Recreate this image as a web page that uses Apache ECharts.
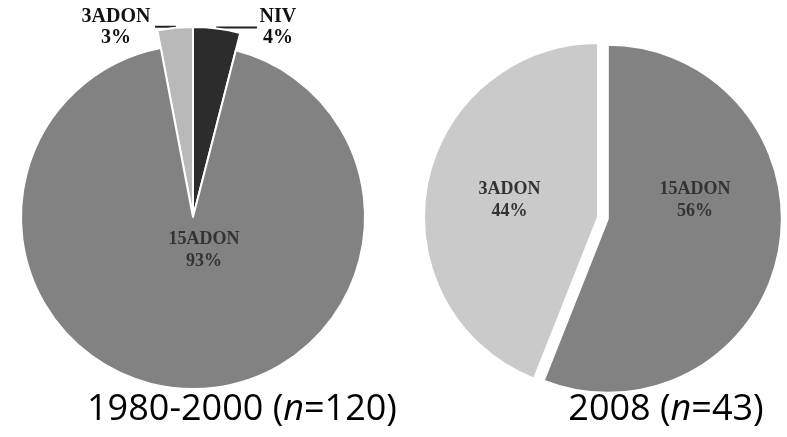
<!DOCTYPE html>
<html>
<head>
<meta charset="utf-8">
<script src="https://cdn.jsdelivr.net/npm/echarts@6/dist/echarts.min.js"></script>
<style>
html, body { margin: 0; padding: 0; background: #fff; }
#main { width: 787px; height: 437px; }
</style>
</head>
<body>
<div id="main"></div>
<script>
// 1980-2000
var leftNames = ['NIV', '15ADON', '3ADON'];
var leftValues = [4, 93, 3];
// 2008
var rightNames = ['15ADON', '3ADON'];
var rightValues = [56, 44];
var titleTexts = ['1980-2000 ({i|n}=120)', '2008 ({i|n}=43)'];

var leftColor = { 'NIV': '#2c2c2c', '15ADON': '#828282', '3ADON': '#b9b9b9' };
var rightColor = { '15ADON': '#828282', '3ADON': '#cacaca' };
var none = 'rgba(0,0,0,0)';
var serif = 'Liberation Serif';

var oChart = echarts.init(document.getElementById('main'));

// small slices drawn on a larger radius
var leftOuter = leftNames.map(function (n, i) {
    var big = n === '15ADON';
    return {
        name: n,
        value: leftValues[i],
        itemStyle: big ? { color: none, borderWidth: 0 } : { color: leftColor[n] },
        label: { show: !big },
        labelLine: { show: !big, length: 1, length2: n === 'NIV' ? 40 : 20 }
    };
});

var leftInner = leftNames.map(function (n, i) {
    var big = n === '15ADON';
    return {
        name: n,
        value: leftValues[i],
        itemStyle: big ? { color: leftColor[n] } : { color: none, borderWidth: 0 },
        label: { show: big }
    };
});

var rightData = rightNames.map(function (n, i) {
    return {
        name: n,
        value: rightValues[i],
        selected: n === '15ADON',
        itemStyle: { color: rightColor[n] },
        label: { show: n === '3ADON' }
    };
});

// same slices, invisible, only to carry the 15ADON label
var rightLabelData = rightNames.map(function (n, i) {
    return {
        name: n,
        value: rightValues[i],
        itemStyle: { color: none, borderWidth: 0 },
        label: { show: n === '15ADON' }
    };
});

function pctLabel(p) {
    return p.name + '\n' + p.value + '%';
}

var innerLabel = {
    formatter: pctLabel,
    fontFamily: serif,
    fontWeight: 'bold',
    fontSize: 18,
    lineHeight: 22,
    color: '#333'
};

var chartopt = {
    animation: false,
    backgroundColor: '#fff',
    title: titleTexts.map(function (t, i) {
        return {
            text: t,
            left: i === 0 ? 237 : 661,
            top: 387,
            textAlign: 'center',
            textStyle: {
                fontFamily: 'Open Sans',
                fontSize: 36,
                fontWeight: 'normal',
                color: '#000',
                rich: {
                    i: { fontFamily: 'Open Sans', fontSize: 36, fontStyle: 'italic', color: '#000' }
                }
            }
        };
    }),
    series: [{
        name: 'outer',
        type: 'pie',
        center: [193, 217],
        radius: [0, 190],
        startAngle: 90,
        clockwise: true,
        avoidLabelOverlap: false,
        silent: true,
        itemStyle: { borderColor: '#fff', borderWidth: 2 },
        label: {
            position: 'outside',
            distanceToLabelLine: 2,
            formatter: function (p) {
                var k = p.name === 'NIV' ? 'b' : 'a';
                return '{' + k + '|' + p.name + '}\n{' + k + '|' + p.value + '%}';
            },
            rich: {
                a: { width: 74, align: 'center', fontFamily: serif, fontWeight: 'bold', fontSize: 20, color: '#111', lineHeight: 21 },
                b: { width: 38, align: 'center', fontFamily: serif, fontWeight: 'bold', fontSize: 20, color: '#111', lineHeight: 21 }
            }
        },
        labelLine: { lineStyle: { color: '#222', width: 2 } },
        data: leftOuter
    }, {
        name: 'inner',
        type: 'pie',
        center: [193, 217],
        radius: [0, 172],
        startAngle: 90,
        clockwise: true,
        silent: true,
        itemStyle: { borderColor: '#fff', borderWidth: 2 },
        label: Object.assign({ position: 'center', offset: [11, 33] }, innerLabel),
        labelLine: { show: false },
        data: leftInner
    }, {
        name: '2008',
        type: 'pie',
        center: [598, 217],
        radius: [0, 174],
        startAngle: 90,
        clockwise: true,
        silent: true,
        selectedMode: 'single',
        selectedOffset: 10,
        itemStyle: { borderColor: '#fff', borderWidth: 2 },
        label: Object.assign({ position: 'inside' }, innerLabel),
        labelLine: { show: false },
        data: rightData
    }, {
        name: '2008 labels',
        type: 'pie',
        z: 5,
        center: [598, 217],
        radius: [0, 174],
        startAngle: 90,
        clockwise: true,
        silent: true,
        avoidLabelOverlap: false,
        label: Object.assign({ position: 'center', offset: [97, -17] }, innerLabel),
        labelLine: { show: false },
        data: rightLabelData
    }]
};

oChart.setOption(chartopt);
</script>
</body>
</html>
